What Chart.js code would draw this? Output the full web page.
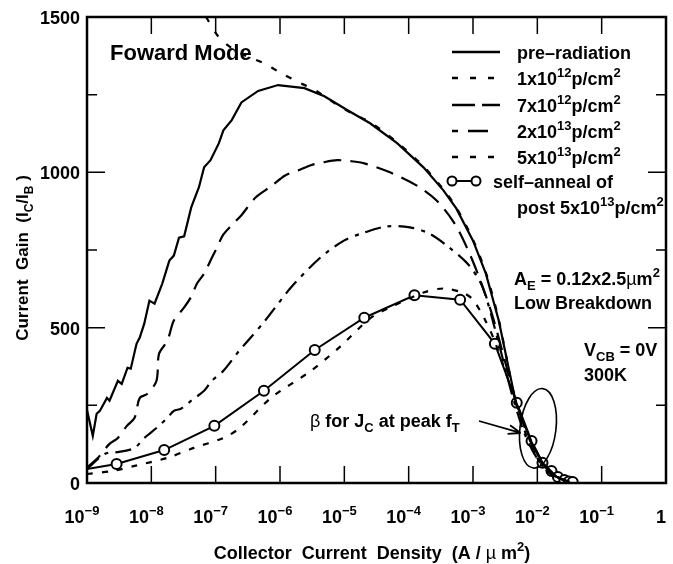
<!DOCTYPE html>
<html>
<head>
<meta charset="utf-8">
<script src="https://cdn.jsdelivr.net/npm/chart.js@4/dist/chart.umd.min.js"></script>
<style>
  html, body { margin: 0; padding: 0; background: #fff; }
  #box { width: 673px; height: 564px; position: relative; }
</style>
</head>
<body>
<div id="box"><canvas id="gain"></canvas></div>
<script>
// x values are log10 of collector current density (A/um^2), y values are current gain
var preRadLogJ = [-9, -8.91, -8.85, -8.8, -8.69, -8.65, -8.52, -8.46, -8.37, -8.32, -8.23, -8.18, -8.11, -8.03, -7.95,
  -7.83, -7.72, -7.65, -7.57, -7.49, -7.38, -7.26, -7.18, -7.08, -6.95, -6.88, -6.75, -6.6, -6.34, -6.03, -5.62,
  -5.31, -4.95, -4.6, -4.18, -3.77, -3.46, -3.26, -3.0, -2.8, -2.6, -2.34, -2.1, -1.92, -1.7, -1.5];
var preRadGain = [235, 152, 223, 232, 274, 265, 329, 319, 371, 368, 448, 468, 513, 587, 577,
  642, 716, 732, 790, 794, 887, 952, 1016, 1039, 1094, 1135, 1168, 1225, 1262, 1281, 1271,
  1245, 1200, 1158, 1094, 1016, 942, 884, 780, 674, 523, 265, 135, 65, 20, 3];

var dose1e12LogJ = [-7.15, -6.95, -6.75, -6.5, -6.26, -5.98, -5.68, -5.46, -5.0, -4.6, -4.18, -3.77, -3.46, -3.26,
  -3.0, -2.8, -2.6, -2.34, -2.1, -1.92, -1.7, -1.5];
var dose1e12Gain = [1500, 1435, 1400, 1372, 1352, 1319, 1287, 1265, 1203, 1161, 1097, 1019, 945, 887,
  783, 677, 526, 268, 137, 66, 21, 3];

var dose7e12LogJ = [-9, -8.83, -8.65, -8.52, -8.38, -8.26, -8.18, -8.06, -7.92, -7.88, -7.75, -7.65, -7.49, -7.38,
  -7.29, -7.18, -7.08, -6.98, -6.88, -6.75, -6.6, -6.38, -6.14, -5.92, -5.72, -5.52, -5.31, -5.11, -4.9, -4.69,
  -4.29, -3.88, -3.57, -3.3, -3.1, -2.9, -2.7, -2.5, -2.3, -2.1, -1.92, -1.7, -1.5];
var dose7e12Gain = [50, 81, 126, 145, 184, 210, 274, 287, 329, 416, 458, 523, 565, 600,
  642, 674, 716, 758, 800, 830, 862, 919, 955, 990, 1006, 1023, 1033, 1039, 1036, 1029,
  1000, 958, 910, 840, 760, 660, 540, 390, 240, 130, 62, 20, 3];

var dose2e13LogJ = [-9, -8.72, -8.5, -8.26, -8.11, -7.92, -7.75, -7.65, -7.54, -7.38, -7.18, -7.06, -6.88, -6.62,
  -6.54, -6.23, -5.83, -5.37, -5.0, -4.69, -4.34, -3.98, -3.68, -3.37, -3.06, -2.85, -2.6, -2.4, -2.2, -2.0,
  -1.8, -1.5];
var dose2e13Gain = [45, 94, 100, 113, 145, 177, 210, 232, 239, 265, 297, 329, 361, 430,
  448, 523, 629, 726, 781, 806, 826, 823, 803, 758, 700, 630, 450, 290, 160, 78,
  30, 3];

var dose5e13LogJ = [-9, -8.6, -8.26, -7.75, -7.34, -6.88, -6.62, -6.14, -5.52, -5.06, -4.6, -4.29, -3.77, -3.46,
  -3.15, -3.0, -2.8, -2.66, -2.4, -2.2, -2.0, -1.8, -1.5];
var dose5e13Gain = [29, 39, 55, 81, 113, 145, 178, 274, 361, 440, 530, 565, 613, 626,
  612, 590, 520, 455, 300, 170, 80, 30, 3];

var annealLogJ = [-9, -8.54, -7.8, -7.02, -6.25, -5.46, -4.69, -3.91, -3.2, -2.66, -2.32, -2.09, -1.92, -1.78,
  -1.68, -1.58, -1.51, -1.45];
var annealGain = [45, 61, 106, 184, 297, 428, 532, 604, 590, 448, 258, 135, 65, 39,
  19, 10, 5, 3];

var decades = [-9, -8, -7, -6, -5, -4, -3, -2, -1, 0];
var gainMajor = [0, 500, 1000, 1500];
var gainMinor = [250, 750, 1250];

var FONT = '"Liberation Sans", Arial, Helvetica, sans-serif';

function pts(xs, ys) {
    var out = [];
    for (var i = 0; i < xs.length; i++) out.push({x: xs[i], y: ys[i]});
    return out;
}

// text with sub/superscript pieces: [text, 0 normal | 1 sup | -1 sub, weight]
function richText(ctx, x, y, parts, size, align) {
    var small = Math.round(size * 0.7);
    function fontOf(p) {
        return (p[2] || 'bold') + ' ' + (p[1] ? small : size) + 'px ' + FONT;
    }
    var w = 0;
    parts.forEach(function (p) { ctx.font = fontOf(p); w += ctx.measureText(p[0]).width; });
    var cx = x;
    if (align === 'center') cx = x - w / 2;
    if (align === 'right') cx = x - w;
    ctx.textAlign = 'left';
    ctx.textBaseline = 'alphabetic';
    parts.forEach(function (p) {
        ctx.font = fontOf(p);
        var dy = p[1] === 1 ? -size * 0.42 : (p[1] === -1 ? size * 0.3 : 0);
        ctx.fillText(p[0], cx, y + dy);
        cx += ctx.measureText(p[0]).width;
    });
}

function lineStyle(dash) {
    return {
        borderColor: '#000',
        borderWidth: 2.2,
        borderDash: dash,
        pointRadius: 0,
        fill: false,
        tension: 0.3
    };
}

var datasets = [
    Object.assign({label: 'pre-radiation', data: pts(preRadLogJ, preRadGain)}, lineStyle([]), {tension: 0}),
    Object.assign({label: '1x10^12', data: pts(dose1e12LogJ, dose1e12Gain)}, lineStyle([6, 11])),
    Object.assign({label: '7x10^12', data: pts(dose7e12LogJ, dose7e12Gain)}, lineStyle([18, 9])),
    Object.assign({label: '2x10^13', data: pts(dose2e13LogJ, dose2e13Gain)}, lineStyle([16, 7, 4, 7])),
    Object.assign({label: '5x10^13', data: pts(dose5e13LogJ, dose5e13Gain)}, lineStyle([6, 9])),
    {
        label: 'self-anneal',
        data: pts(annealLogJ, annealGain),
        borderColor: '#000',
        borderWidth: 2,
        tension: 0,
        fill: false,
        pointStyle: 'circle',
        pointRadius: annealLogJ.map(function (v, i) { return i === 0 ? 0 : 5; }),
        pointBorderWidth: 2,
        pointBorderColor: '#000',
        pointBackgroundColor: '#fff'
    }
];

// legend rows drawn by hand (they carry superscripts)
var legendRows = [
    {y: 52, dash: [], parts: [['pre\u2013radiation', 0]]},
    {y: 78, dash: [6, 12], parts: [['1x10', 0], ['12', 1], ['p/cm', 0], ['2', 1]]},
    {y: 105, dash: [23, 7], parts: [['7x10', 0], ['12', 1], ['p/cm', 0], ['2', 1]]},
    {y: 131, dash: [6, 10, 20, 50], parts: [['2x10', 0], ['13', 1], ['p/cm', 0], ['2', 1]]},
    {y: 157, dash: [6, 12], parts: [['5x10', 0], ['13', 1], ['p/cm', 0], ['2', 1]]}
];

var decor = {
    id: 'decor',
    afterDatasetsDraw: function (chart) {
        var ctx = chart.ctx, a = chart.chartArea;
        var xs = chart.scales.x, ys = chart.scales.y;
        ctx.save();
        ctx.strokeStyle = '#000';
        ctx.fillStyle = '#000';

        // frame
        ctx.lineWidth = 2.5;
        ctx.setLineDash([]);
        ctx.strokeRect(a.left, a.top, a.right - a.left, a.bottom - a.top);

        // inward tick marks
        ctx.lineWidth = 1.5;
        ctx.beginPath();
        decades.forEach(function (d) {
            var px = xs.getPixelForValue(d);
            ctx.moveTo(px, a.bottom); ctx.lineTo(px, a.bottom - 17);
            ctx.moveTo(px, a.top); ctx.lineTo(px, a.top + 17);
        });
        gainMajor.forEach(function (g) {
            var py = ys.getPixelForValue(g);
            ctx.moveTo(a.left, py); ctx.lineTo(a.left + 18, py);
            ctx.moveTo(a.right, py); ctx.lineTo(a.right - 18, py);
        });
        gainMinor.forEach(function (g) {
            var py = ys.getPixelForValue(g);
            ctx.moveTo(a.left, py); ctx.lineTo(a.left + 10, py);
            ctx.moveTo(a.right, py); ctx.lineTo(a.right - 10, py);
        });
        ctx.stroke();

        // tick labels
        gainMajor.forEach(function (g) {
            richText(ctx, a.left - 7, ys.getPixelForValue(g) + 7, [[String(g), 0]], 18, 'right');
        });
        decades.forEach(function (d) {
            var px = xs.getPixelForValue(d) - 5;
            if (d === 0) richText(ctx, px, 523, [['1', 0]], 18, 'center');
            else richText(ctx, px, 523, [['10', 0], ['\u2212' + (-d), 1]], 18, 'center');
        });

        // axis titles
        richText(ctx, 372, 559, [['Collector  Current  Density  (A / ', 0], ['\u00b5', 0, 'normal'], [' m', 0], ['2', 1], [')', 0]], 18, 'center');
        ctx.save();
        ctx.translate(28, 258);
        ctx.rotate(-Math.PI / 2);
        richText(ctx, 0, 0, [['Current  Gain  (I', 0], ['C', -1], ['/I', 0], ['B', -1], [' )', 0]], 17, 'center');
        ctx.restore();

        // labels inside the plot
        richText(ctx, 110, 60, [['Foward Mode', 0]], 22, 'left');

        legendRows.forEach(function (r) {
            ctx.lineWidth = 2.5;
            ctx.setLineDash(r.dash);
            ctx.beginPath();
            ctx.moveTo(452, r.y); ctx.lineTo(500, r.y);
            ctx.stroke();
            ctx.setLineDash([]);
            richText(ctx, 517, r.y + 6.5, r.parts, 18, 'left');
        });
        ctx.lineWidth = 2;
        ctx.beginPath();
        ctx.moveTo(456, 181); ctx.lineTo(472, 181);
        ctx.stroke();
        [452, 476].forEach(function (cx) {
            ctx.beginPath();
            ctx.arc(cx, 181, 4.5, 0, Math.PI * 2);
            ctx.fillStyle = '#fff'; ctx.fill();
            ctx.stroke();
        });
        ctx.fillStyle = '#000';
        richText(ctx, 493, 187.5, [['self\u2013anneal of', 0]], 18, 'left');
        richText(ctx, 517, 213.5, [['post 5x10', 0], ['13', 1], ['p/cm', 0], ['2', 1]], 18, 'left');

        richText(ctx, 514, 285, [['A', 0], ['E', -1], [' = 0.12x2.5', 0], ['\u00b5', 0, 'normal'], ['m', 0], ['2', 1]], 18, 'left');
        richText(ctx, 514, 309, [['Low Breakdown', 0]], 18, 'left');
        richText(ctx, 584, 356, [['V', 0], ['CB', -1], [' = 0V', 0]], 18, 'left');
        richText(ctx, 584, 381, [['300K', 0]], 18, 'left');

        // peak-fT region marker
        var ex = xs.getPixelForValue(-1.99), ey = ys.getPixelForValue(176);
        ctx.lineWidth = 1.6;
        ctx.beginPath();
        ctx.ellipse(ex, ey, 18, 40, 0.12, 0, Math.PI * 2);
        ctx.stroke();

        richText(ctx, 310, 427, [['\u03b2', 0, 'normal'], [' for J', 0], ['C', -1], [' at peak f', 0], ['T', -1]], 18, 'left');
        var x0 = 479, y0 = 421, x1 = xs.getPixelForValue(-2.26), y1 = ys.getPixelForValue(161);
        var ang = Math.atan2(y1 - y0, x1 - x0);
        ctx.lineWidth = 1.8;
        ctx.beginPath();
        ctx.moveTo(x0, y0); ctx.lineTo(x1, y1);
        ctx.moveTo(x1, y1); ctx.lineTo(x1 - 13 * Math.cos(ang - 0.35), y1 - 13 * Math.sin(ang - 0.35));
        ctx.moveTo(x1, y1); ctx.lineTo(x1 - 13 * Math.cos(ang + 0.35), y1 - 13 * Math.sin(ang + 0.35));
        ctx.stroke();

        ctx.restore();
    }
};

var gainChart = new Chart(document.getElementById('gain'), {
    type: 'line',
    data: {datasets: datasets},
    options: {
        responsive: true,
        maintainAspectRatio: false,
        animation: false,
        layout: {padding: {left: 87, right: 2, top: 17, bottom: 81}},
        plugins: {legend: {display: false}, tooltip: {enabled: false}},
        scales: {
            x: {type: 'linear', min: -9, max: 0, display: false},
            y: {type: 'linear', min: 0, max: 1500, display: false}
        }
    },
    plugins: [decor]
});
</script>
</body>
</html>
